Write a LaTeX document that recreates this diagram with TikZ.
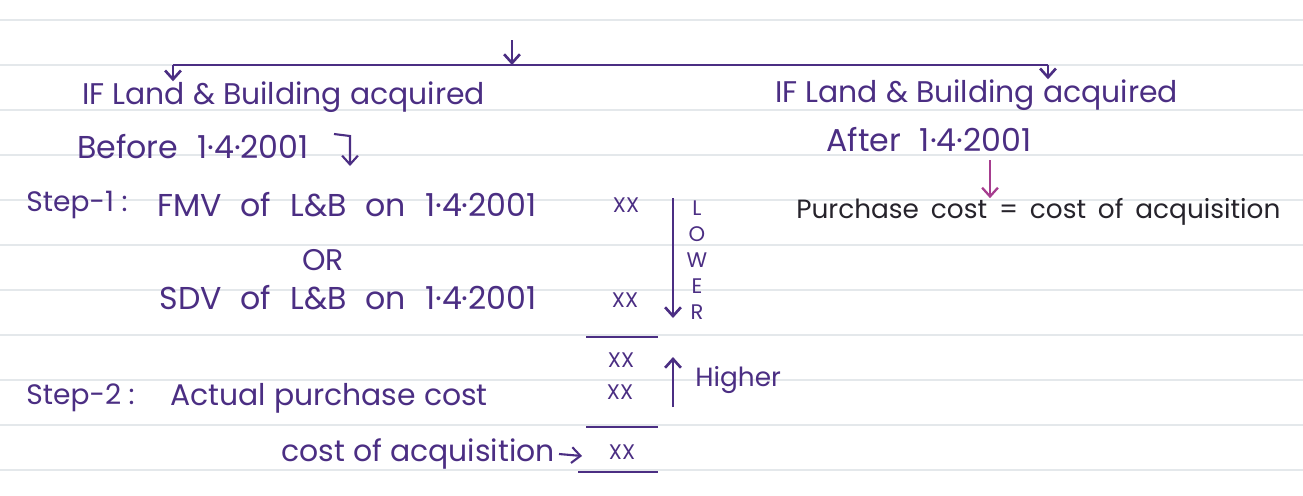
\documentclass[tikz,border=0pt]{standalone}
\usepackage{fontspec}
\setmainfont{Poppins}
\usetikzlibrary{arrows.meta,positioning}

\definecolor{ink}{HTML}{4B2E83}
\definecolor{inkdark}{HTML}{26232B}
\definecolor{inkpink}{HTML}{A63D8F}
\definecolor{ruling}{HTML}{E4E8EB}

\newcommand\wordgap[1]{\spaceskip #1\relax}

\tikzset{
  pen/.style={draw=ink, line width=1.5pt},
  penthin/.style={draw=ink, line width=1.2pt},
  amount/.style={font=\fontsize{12}{14}\selectfont},
  widerow/.style={font=\fontsize{18}{21}\selectfont\wordgap{0.6em}},
  steplabel/.style={anchor=west, font=\fontsize{16}{19}\selectfont},
}

\begin{document}
\begin{tikzpicture}[x=0.02cm, y=-0.02cm, >={Straight Barb[length=5pt,width=9pt]},
    every node/.style={font=\fontsize{17}{20}\selectfont, text=ink, inner sep=0pt}]
    % Ruled page
    \fill[white] (0,0) rectangle (1303,495);
    \useasboundingbox (0,0) rectangle (1303,495);
    \foreach \ly in {20,65,...,470}
        \draw[ruling, line width=1.2pt] (0,\ly) -- (1303,\ly);

    % Split into the two cases
    \coordinate (top) at (512,40);
    \coordinate (barM) at (512,65);
    \coordinate (barL) at (173,65);
    \coordinate (barR) at (1048,65);
    \draw[->, pen] (top) -- (barM);
    \draw[pen] (barL) -- (barR);

    % Before 1.4.2001
    \node[anchor=west] (ifL) at (82,97) {IF Land \& Building acquired};
    \node[anchor=west, widerow] (before) at (77,147) {Before 1·4·2001};
    \draw[->, pen] (barL) -- (barL |- ifL.north);
    \coordinate (hookL) at (334,134);
    \draw[->, penthin] (hookL) -- ++(16,2) -- ++(0,30);

    % After 1.4.2001
    \node[anchor=west] (ifR) at (775,95) {IF Land \& Building acquired};
    \node[anchor=west, widerow] (after) at (826,140) {After 1·4·2001};
    \draw[->, pen] (barR) -- (barR |- ifR.north);
    \node[anchor=west, text=inkdark, font=\fontsize{15}{18}\selectfont\wordgap{0.45em}] (purch) at (796,212) {Purchase cost = cost of acquisition};
    \coordinate (aftArr) at (990,160);
    \draw[->, draw=inkpink, line width=1.3pt] (aftArr) -- (aftArr |- purch.north);

    % Step 1: lower of FMV and SDV
    \node[steplabel] (s1) at (26,205) {Step-1 :};
    \node[anchor=east, widerow] (fmv) at (537,205) {FMV of L\&B on 1·4·2001};
    \node (or) at (323,260) {OR};
    \node[anchor=east, widerow] (sdv) at (537,298) {SDV of L\&B on 1·4·2001};
    \node[amount] (xx1) at (626,205) {XX};
    \node[amount] (xx2) at (625,300) {XX};
    \coordinate (lowT) at (673,198);
    \coordinate (lowB) at (673,318);
    \draw[->, pen] (lowT) -- (lowB);
    \node[align=center, font=\fontsize{12}{14.8}\selectfont] (lower) at (697,260) {L\\O\\W\\E\\R};
    \draw[pen] (586,337) -- (658,337);

    % Step 2: higher of the two
    \node[amount] (xx3) at (621,360) {XX};
    \node[amount] (xx4) at (620,392) {XX};
    \coordinate (hiB) at (673,407);
    \coordinate (hiT) at (673,357);
    \draw[->, pen] (hiB) -- (hiT);
    \node[anchor=west, font=\fontsize{15}{18}\selectfont] (higher) at (695,380) {Higher};
    \node[steplabel] (s2) at (26,398) {Step-2 :};
    \node[anchor=west] (actual) at (170,398) {Actual purchase cost};
    \draw[pen] (586,427) -- (658,427);

    % Result
    \node[anchor=east] (coa) at (555,454) {cost of acquisition};
    \coordinate (coaArr) at (582,456);
    \draw[->, penthin] (coa.east) ++(4,0) -- (coaArr);
    \node[amount] (xx5) at (622,452) {XX};
    \draw[pen] (578,472) -- (658,472);
\end{tikzpicture}
\end{document}
